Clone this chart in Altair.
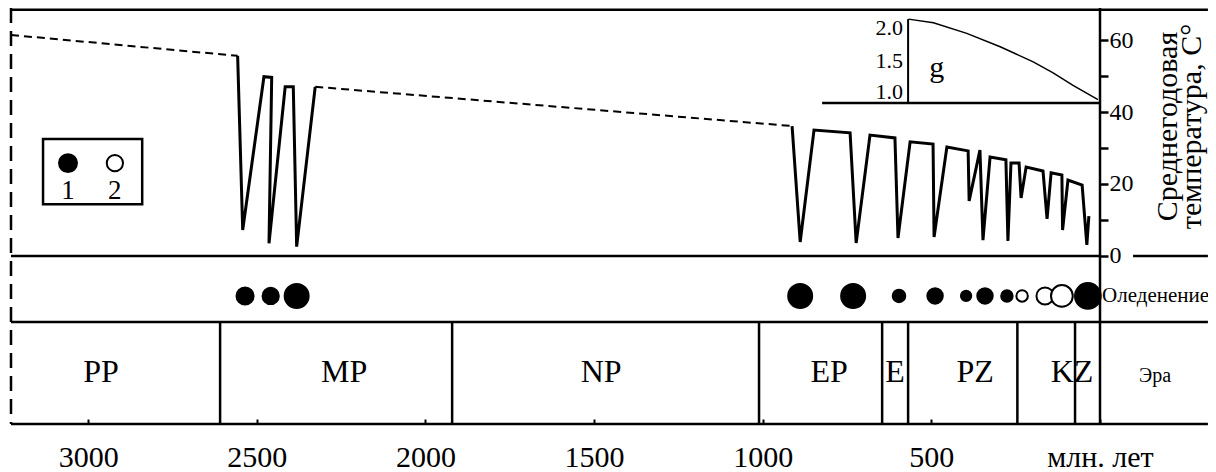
import altair as alt
import pandas as pd

# ---------------- data ----------------
# mean annual temperature curve: age (Ma) and temperature (°C), in drawing order
CURVE_MA = [3229, 2557, 2542, 2479, 2456, 2464, 2416, 2392, 2382, 2327,
            913, 889, 848, 741, 723, 682, 608, 599, 563, 495, 492, 454,
            391, 388, 356, 347, 326, 279, 273, 264, 240, 234, 219, 169,
            157, 145, 113, 111, 95, 53, 39, 33]
CURVE_T = [61.4, 55.6, 7.2, 49.8, 49.6, 3.5, 47.0, 47.0, 2.6, 47.0,
           36.1, 3.9, 35.0, 34.2, 3.6, 33.6, 32.8, 5.0, 31.7, 31.1, 5.3, 30.3,
           29.2, 15.3, 29.4, 4.4, 27.5, 26.7, 4.2, 25.8, 25.8, 16.1, 24.7, 23.6,
           10.3, 23.1, 22.5, 7.2, 21.1, 19.7, 3.1, 11.1]
DASHED_PARTS = [(0, 1), (9, 10)]          # index spans drawn dashed

# glaciations: age (Ma), relative magnitude, type (1 = filled, 2 = open)
GLAC_MA = [2535, 2459, 2382, 889, 732, 596, 489, 397, 341, 276, 231, 163, 113, 36]
GLAC_MAG = [10, 9.5, 14, 14, 14, 7.3, 9, 6, 9, 6.7, 6.7, 10, 12.7, 15]
GLAC_TYPE = ['1', '1', '1', '1', '1', '1', '1', '1', '1', '1', '2', '2', '2', '1']

# eras
ERA_BOUNDS = [2609, 1921, 1011, 646, 569, 245, 74]
ERA_NAMES = ['PP', 'MP', 'NP', 'EP', 'E', 'PZ', 'KZ']
ERA_LABEL_MA = [2962, 2241, 1479, 803, 608, 370, 83]

# inset: g versus age
G_MA = [568, 494, 395, 296, 198, 139, 80, 6]
G_VAL = [2.0, 1.956, 1.83, 1.67, 1.49, 1.36, 1.21, 1.04]

X_TICKS = [3000, 2500, 2000, 1500, 1000, 500, 0]
T_TICKS = [0, 10, 20, 30, 40, 50, 60]
G_TICKS = [1.0, 1.5, 2.0]
LEGEND_LABELS = ['1', '2']

# ---------------- layout ----------------
FONT = 'Liberation Serif'
W, H = 1089, 416
X_LEFT = 3229.0        # age at the left frame
X_PAGE = -320.0        # age-equivalent of the right edge of the drawing
T_TOP, T_BOT = 68.89, -46.67
T_ERA = -18.33         # top of the era strip
T_GLAC = -11.1         # glaciation row
T_ERA_LBL = -32.2
# inset g axis placed inside the temperature frame: g=1 -> T 42.5, g=2 -> T 65.8
G_T0, G_T_PER = 42.5, 23.3
G_AXIS_MA = 569

XS = alt.Scale(domain=[X_LEFT, 0], nice=False, zero=False)
YS = alt.Scale(domain=[T_BOT, T_TOP], nice=False, zero=False)
SIZE = alt.Size('mag:Q', scale=alt.Scale(type='pow', exponent=2, domain=[0, 15], range=[0, 660]), legend=None)
FILL = alt.Fill('type:N', scale=alt.Scale(domain=['1', '2'], range=['black', 'white']), legend=None)
G2T = f"{G_T0} + (datum.g - 1) * {G_T_PER}"

T_AXIS = alt.Axis(
    orient='right', values=T_TICKS, labelExpr="datum.value % 20 == 0 ? datum.label : ''",
    domain=False, grid=False, ticks=True, tickSize=8, tickWidth=2.5, tickColor='black',
    labelFont=FONT, labelFontSize=24, labelColor='black', labelPadding=1,
    title=['Среднегодовая', 'температура, C°'], titleFont=FONT, titleFontSize=30,
    titleFontWeight='normal', titleColor='black', titleAngle=270, titleX=67, titleY=118,
    titleAlign='center', titleBaseline='middle', titleLineHeight=24)

X_AXIS = alt.Axis(
    orient='bottom', values=X_TICKS, format='d',
    labelExpr="datum.value == 0 ? 'млн. лет' : datum.label",
    offset=-5, domain=False, grid=False, tickSize=5, tickWidth=2, tickColor='black',
    labelFont=FONT, labelFontSize=30, labelColor='black', labelPadding=18,
    labelFlush=False, labelOverlap=False, title=None)


def X(f='ma'):
    return alt.X(f'{f}:Q', scale=XS, axis=X_AXIS)


def Y(f='t'):
    return alt.Y(f'{f}:Q', scale=YS, axis=T_AXIS)


# curve table with segments
rows = []
cuts = sorted({0, len(CURVE_MA) - 1} | {i for p in DASHED_PARTS for i in p})
for k in range(len(cuts) - 1):
    a, b = cuts[k], cuts[k + 1]
    style = 'dashed' if (a, b) in DASHED_PARTS else 'solid'
    for i in range(a, b + 1):
        rows.append(dict(seg=k, style=style, ma=CURVE_MA[i], t=CURVE_T[i], order=i))
curve = pd.DataFrame(rows)

solid = alt.Chart(curve).transform_filter("datum.style == 'solid'").mark_line(
    color='black', strokeWidth=3, strokeMiterLimit=4).encode(
    x=X(), y=Y(), detail='seg:N', order='order:Q')
dashed = alt.Chart(curve).transform_filter("datum.style == 'dashed'").mark_line(
    color='black', strokeWidth=2, strokeDash=[8, 5]).encode(
    x=X(), y=Y(), detail='seg:N', order='order:Q')

# frame
hl = pd.DataFrame({'y': [68.4, 0, 0, T_ERA, T_BOT],
                   'x': [X_LEFT, X_LEFT, -98, X_LEFT, X_LEFT],
                   'x2': [X_PAGE, 0, X_PAGE, X_PAGE, X_PAGE]})
hrules = alt.Chart(hl).mark_rule(color='black', strokeWidth=2.5).encode(
    x=X('x'), x2='x2:Q', y=Y('y'))
vl = pd.DataFrame({'x': [0] + ERA_BOUNDS, 'y': [T_TOP] + [T_ERA] * len(ERA_BOUNDS),
                   'y2': [T_BOT] * (len(ERA_BOUNDS) + 1)})
vrules = alt.Chart(vl).mark_rule(color='black', strokeWidth=2.5).encode(
    x=X('x'), y=Y('y'), y2='y2:Q')
leftdash = alt.Chart(pd.DataFrame({'x': [X_LEFT], 'y': [T_TOP], 'y2': [T_BOT]})).mark_rule(
    color='black', strokeWidth=2.5, strokeDash=[15, 8]).encode(x=X('x'), y=Y('y'), y2='y2:Q')

# glaciations
glac = pd.DataFrame({'ma': GLAC_MA, 'mag': GLAC_MAG, 'type': GLAC_TYPE, 't': T_GLAC})
glac_pts = alt.Chart(glac).mark_point(filled=True, shape='circle', stroke='black',
                                       strokeWidth=2, opacity=1).encode(
    x=X(), y=Y(), size=SIZE, fill=FILL)

# era labels
eras = pd.DataFrame({'ma': ERA_LABEL_MA, 'name': ERA_NAMES, 't': T_ERA_LBL})
era_txt = alt.Chart(eras).mark_text(font=FONT, fontSize=32, color='black', baseline='middle').encode(
    x=X(), y=Y(), text='name:N')

side1 = pd.DataFrame({'ma': [-6], 't': [T_GLAC], 'txt': ['Оледенение']})
side2 = pd.DataFrame({'ma': [-163], 't': [T_ERA_LBL - 1.2], 'txt': ['Эра']})
side_txt1 = alt.Chart(side1).mark_text(font=FONT, fontSize=21, color='black',
                                        align='left', baseline='middle').encode(
    x=X(), y=Y(), text='txt:N')
side_txt2 = alt.Chart(side2).mark_text(font=FONT, fontSize=20, color='black',
                                        align='center', baseline='middle').encode(
    x=X(), y=Y(), text='txt:N')

# legend box
box = alt.Chart(pd.DataFrame({'x': [3134], 'x2': [2840], 'y': [32.5], 'y2': [14.4]})).mark_rect(
    fill='white', stroke='black', strokeWidth=2.5).encode(x=X('x'), x2='x2:Q', y=Y('y'), y2='y2:Q')
leg = pd.DataFrame({'ma': [3060, 2921], 'mag': [10.5, 9.5], 'type': LEGEND_LABELS,
                    't': [25.8, 25.8], 'tl': [18.1, 18.1]})
leg_pts = alt.Chart(leg).mark_point(filled=True, shape='circle', stroke='black',
                                     strokeWidth=2, opacity=1).encode(
    x=X(), y=Y(), size=SIZE, fill=FILL)
leg_txt = alt.Chart(leg).mark_text(font=FONT, fontSize=27, color='black', baseline='middle').encode(
    x=X(), y=Y('tl'), text='type:N')

# inset g(t), drawn inside the temperature frame
gdf = pd.DataFrame({'ma': G_MA, 'g': G_VAL})
g_line = alt.Chart(gdf).transform_calculate(t=G2T).mark_line(color='black', strokeWidth=1.5).encode(
    x=X(), y=Y())
g_base = alt.Chart(pd.DataFrame({'x': [824], 'x2': [0], 'g': [1.0]})).transform_calculate(
    t=G2T).mark_rule(color='black', strokeWidth=2.5).encode(x=X('x'), x2='x2:Q', y=Y())
g_vax = alt.Chart(pd.DataFrame({'ma': [G_AXIS_MA], 'g': [min(G_TICKS)], 'g2': [max(G_TICKS)]})
                  ).transform_calculate(t=G2T, t2=f"{G_T0} + (datum.g2 - 1) * {G_T_PER}").mark_rule(
    color='black', strokeWidth=2).encode(x=X(), y=Y(), y2='t2:Q')
g_ticks = pd.DataFrame({'ma': [G_AXIS_MA] * 3, 'g': G_TICKS,
                        'lbl': [f'{v:.1f}' for v in G_TICKS],
                        'bl': ['bottom', 'middle', 'top']})
g_tick_txt = [
    alt.Chart(g_ticks[g_ticks.bl == b]).transform_calculate(t=G2T).mark_text(
        font=FONT, fontSize=22, color='black', align='right', baseline=b, dx=-5,
        dy={'bottom': 1, 'middle': 0, 'top': -1}[b]).encode(x=X(), y=Y(), text='lbl:N')
    for b in ['bottom', 'middle', 'top']]
g_lbl = alt.Chart(pd.DataFrame({'ma': [484], 'g': [1.42], 'txt': ['g']})).transform_calculate(
    t=G2T).mark_text(font=FONT, fontSize=30, color='black', baseline='middle').encode(
    x=X(), y=Y(), text='txt:N')

chart = alt.layer(hrules, vrules, leftdash, dashed, solid, glac_pts, era_txt,
                  side_txt1, side_txt2, box, leg_pts, leg_txt,
                  g_base, g_vax, g_line, g_lbl, *g_tick_txt).properties(
    width=W, height=H,
    autosize=alt.AutoSizeParams(type='none'),
    padding={'left': 3, 'top': 0, 'right': 108, 'bottom': 48},
    background='white',
).configure_view(stroke=None).configure_axis(grid=False)

chart.save("out.html", embed_options={"renderer": "svg", "actions": False})
